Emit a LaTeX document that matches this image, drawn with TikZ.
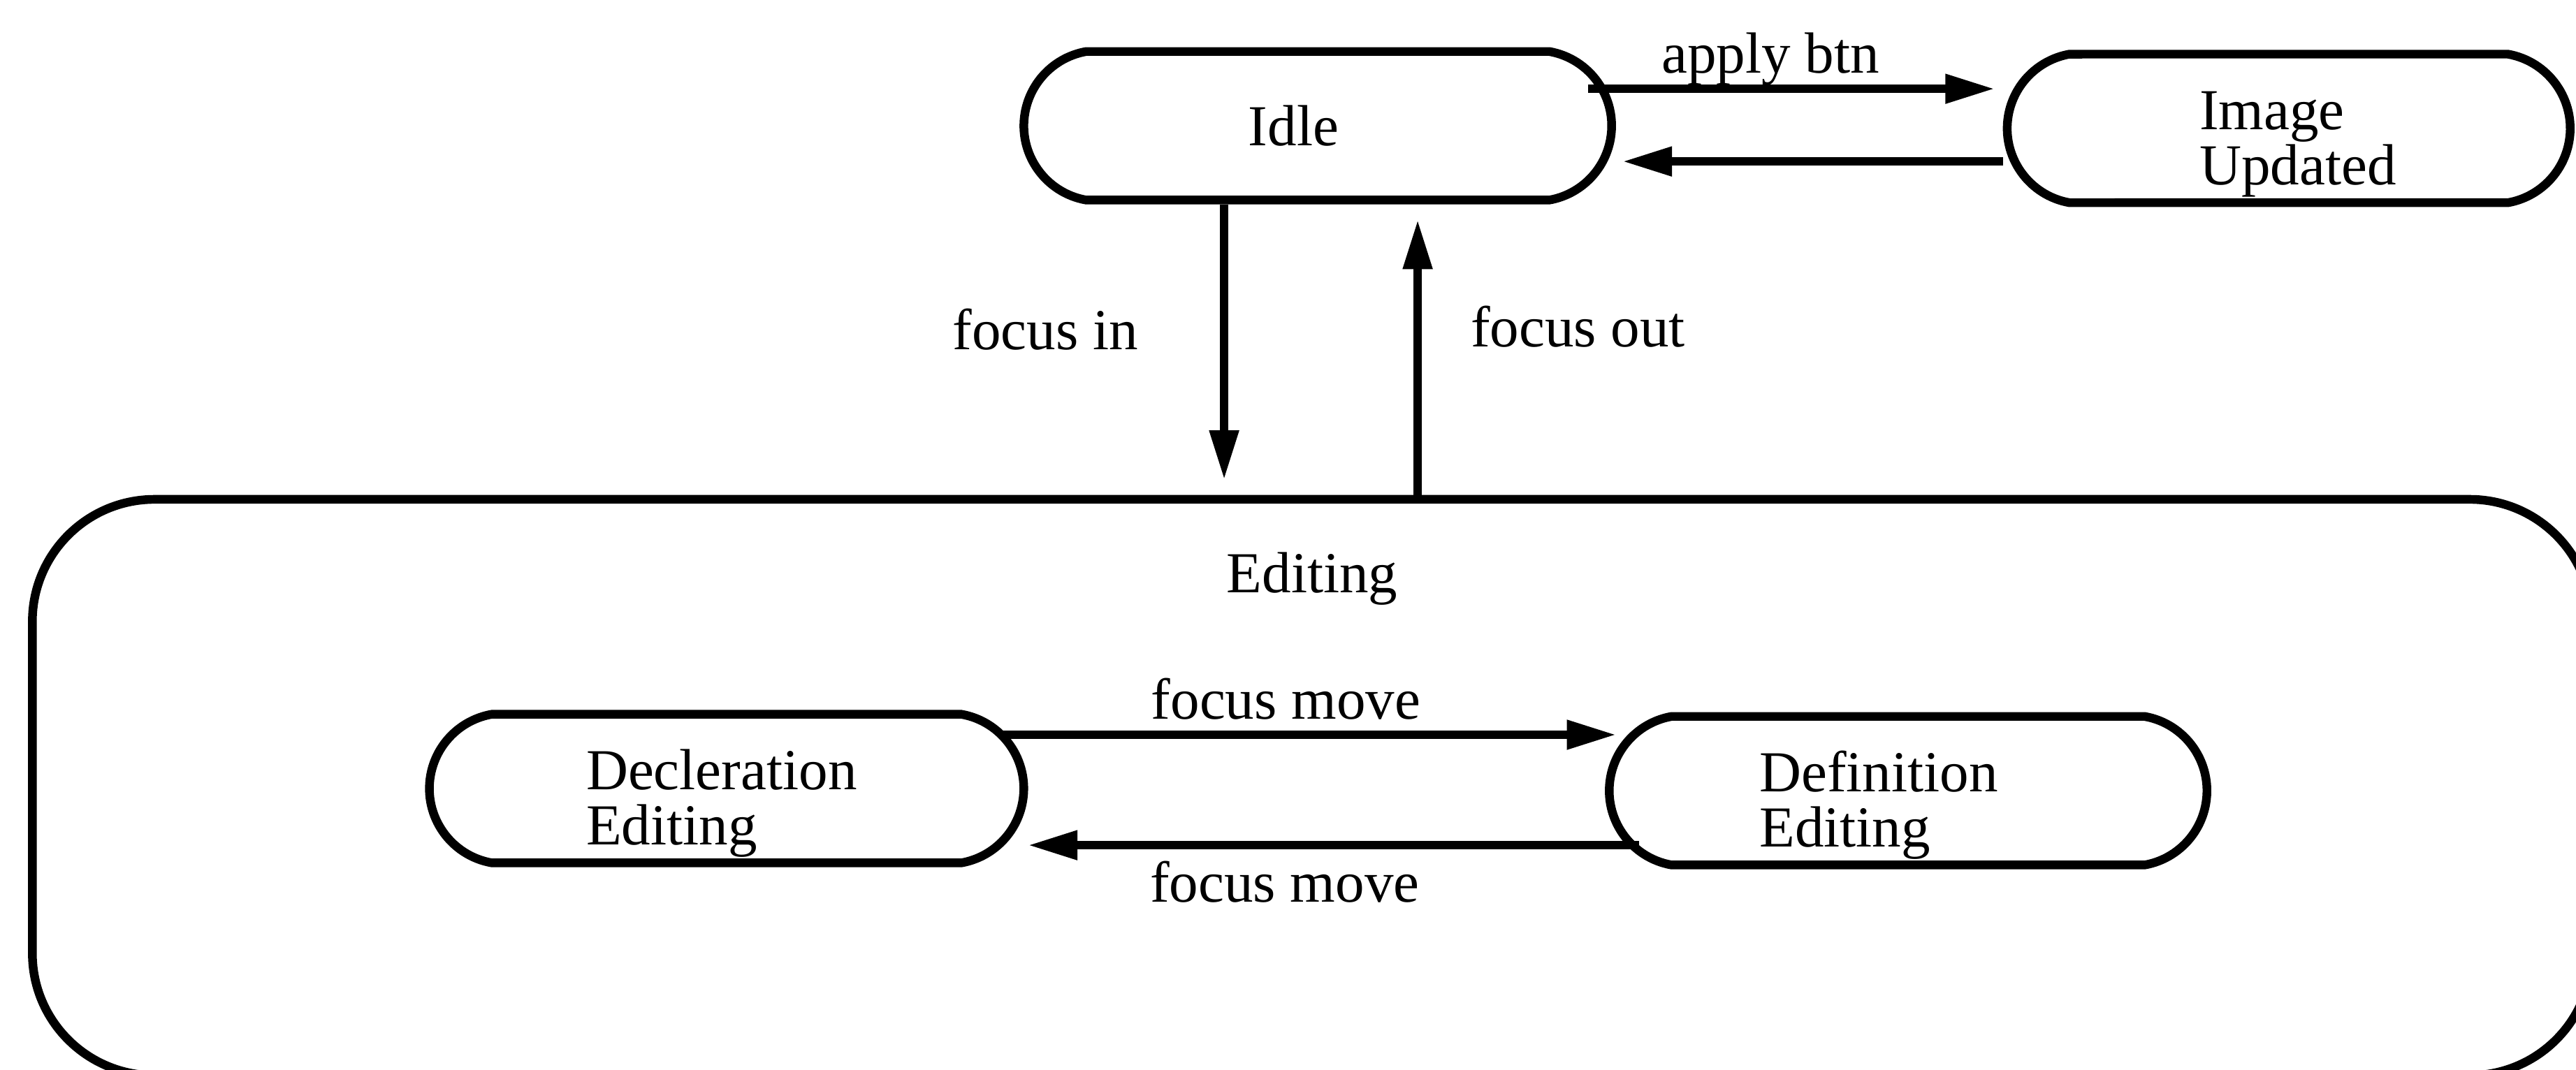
\documentclass[tikz,border=0pt]{standalone}
\usepackage{fontspec}
\setmainfont{Liberation Serif}
\usetikzlibrary{shapes.misc, arrows.meta, calc, positioning}
\tikzset{
  % stato semplice
  statebox/.style={rounded rectangle, rounded rectangle arc length=160,
    draw=black, line width=1.5pt, minimum height=0.9cm, minimum width=3.75cm,
    inner sep=2pt, align=left, font=\fontsize{10pt}{9.6pt}\selectfont},
  % stato con nome su due righe
  twoline/.style={inner ysep=0pt,
    execute at begin node={\hyphenpenalty=10000\rule{0pt}{12pt}}},
  % stato composto
  superstate/.style={rectangle, draw=black, line width=1.5pt,
    rounded corners=0.74cm, minimum width=15.5cm, minimum height=3.49cm},
  % transizione
  msg/.style={-{Triangle[length=8.5pt, width=4.8pt]}, line width=1.4pt},
  % etichette
  lbl/.style={font=\fontsize{10pt}{12pt}\selectfont, align=center},
}
\begin{document}
\begin{tikzpicture}
  \useasboundingbox (0,0) rectangle (15.6,-6.482);

  \node[superstate] (edit) at (7.946,-4.770) {};
  \node[lbl] (edittxt) at ([yshift=-0.507cm]edit.north) {Editing};

  \node[statebox, minimum width=3.70cm, text width=0.84cm] (idle) at (7.98,-0.762) {Idle};
  \node[statebox, twoline, minimum width=3.55cm, text width=1.08cm] (upd) at (13.86,-0.778) {Image\\Updated};
  \node[statebox, twoline, minimum width=3.74cm, text width=1.70cm] (decl) at (4.40,-4.777) {Decleration\\Editing};
  \node[statebox, twoline, minimum width=3.76cm, text width=1.80cm] (defn) at (11.555,-4.790) {Definition\\Editing};

  \draw[msg, shorten >=0.05cm] ([xshift=-0.17cm,yshift=0.224cm]idle.east) coordinate (ab)
    -- (ab -| upd.west) node[lbl, pos=0.44, above=-0.12cm] {apply btn};
  \draw[msg, shorten >=0.04cm] ([yshift=-0.2cm]upd.west) coordinate (ba) -- (ba -| idle.east);

  \draw[msg, shorten >=0.093cm] ([xshift=-0.567cm]idle.south) coordinate (fi)
    -- (fi |- edit.north) node[lbl, pos=0.43, left=0.38cm] {focus in};
  \coordinate (fo) at ([xshift=0.605cm]idle.south);
  \draw[msg, shorten >=0.093cm] (fo |- edit.north) -- (fo)
    node[lbl, pos=0.58, right=0.18cm] {focus out};

  \draw[msg, shorten >=-0.068cm] ([xshift=-0.152cm,yshift=0.326cm]decl.east) coordinate (m1)
    -- (m1 -| defn.west) node[lbl, pos=0.47, above=-0.05cm] {focus move};
  \draw[msg] ([xshift=0.207cm,yshift=-0.33cm]defn.west) coordinate (m2)
    -- (m2 -| decl.east) node[lbl, pos=0.58, below=-0.045cm] {focus move};
\end{tikzpicture}
\end{document}
